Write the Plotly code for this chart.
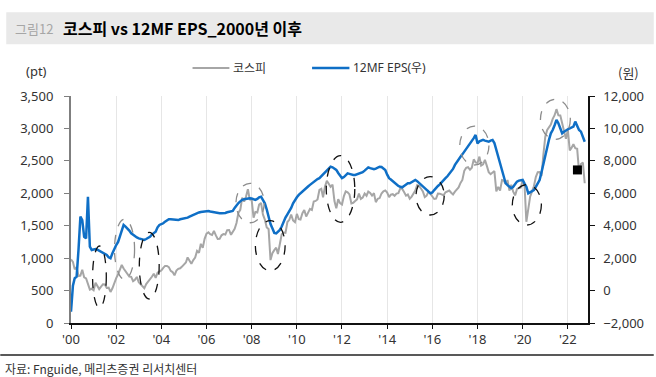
import pandas as pd
import plotly.graph_objects as go

# ---------------- data (monthly, month start) ----------------
months = pd.date_range("2000-01-01", "2022-10-01", freq="MS")

kospi = [
    980, 943, 829, 861, 725, 731, 821, 705, 688, 613, 514, 528,          # 2000
    505, 621, 579, 523, 562, 596, 595, 541, 545, 479, 535, 628,          # 2001
    693, 752, 819, 895, 841, 796, 743, 716, 712, 646, 668, 710,          # 2002
    628, 591, 576, 535, 600, 633, 670, 713, 760, 697, 776, 794,          # 2003
    810, 849, 880, 880, 862, 803, 785, 735, 807, 835, 844, 870,          # 2004
    896, 932, 1011, 965, 912, 970, 1008, 1111, 1083, 1221, 1158, 1297,   # 2005
    1379, 1399, 1371, 1359, 1419, 1351, 1295, 1297, 1352, 1371, 1364, 1432,  # 2006
    1434, 1360, 1417, 1453, 1543, 1700, 1744, 1933, 1873, 1946, 2064, 1906,  # 2007
    1897, 1624, 1711, 1704, 1825, 1852, 1674, 1594, 1474, 1448, 970, 1076,   # 2008
    1124, 1162, 1063, 1206, 1369, 1395, 1390, 1557, 1591, 1673, 1580, 1555,  # 2009
    1682, 1602, 1594, 1692, 1741, 1641, 1698, 1759, 1742, 1873, 1882, 1904,  # 2010
    2051, 2069, 1939, 2106, 2192, 2142, 2100, 2133, 1880, 1770, 1909, 1848,  # 2011
    1826, 1956, 2030, 2014, 1982, 1844, 1854, 1881, 1906, 1996, 1913, 1933,  # 2012
    1997, 1962, 2027, 2005, 1964, 2001, 1863, 1915, 1926, 1997, 2031, 2045,  # 2013
    2011, 1941, 1980, 1986, 1962, 1995, 2002, 2076, 2068, 2020, 1964, 1981,  # 2014
    1916, 1949, 1986, 2041, 2127, 2115, 2074, 2030, 1941, 1963, 2029, 1992,  # 2015
    1961, 1912, 1917, 1996, 1994, 1983, 1970, 2016, 2034, 2043, 2008, 1983,  # 2016
    2026, 2067, 2091, 2160, 2205, 2347, 2392, 2402, 2363, 2394, 2523, 2476,  # 2017
    2467, 2566, 2427, 2446, 2515, 2423, 2326, 2295, 2323, 2343, 2029, 2097,  # 2018
    2041, 2205, 2195, 2141, 2204, 2041, 2130, 2025, 1968, 2063, 2083, 2088,  # 2019
    2198, 2120, 1560, 1755, 1948, 2030, 2108, 2249, 2326, 2328, 2267, 2591,  # 2020
    2873, 2976, 3013, 3061, 3148, 3204, 3297, 3202, 3199, 3068, 2971, 2839,  # 2021
    2977, 2663, 2699, 2757, 2695, 2685, 2332, 2451, 2472, 2155,              # 2022
]

eps_12mf = [
    -1300, 300, 760, 860, 2500, 4560, 4350, 3320, 3220, 5790, 2710, 2500,     # 2000
    2530, 2560, 2520, 2450, 2400, 2330, 2250, 2200, 2050, 1990, 2300, 2600,   # 2001
    2810, 3000, 3320, 3700, 4050, 3950, 3840, 3700, 3530, 3450, 3320, 3280,   # 2002
    3220, 3200, 3150, 3120, 3180, 3250, 3320, 3450, 3550, 3630, 3900, 4050,   # 2003
    4100, 4150, 4250, 4350, 4400, 4400, 4380, 4360, 4350, 4350, 4400, 4420,   # 2004
    4440, 4460, 4500, 4560, 4620, 4660, 4700, 4770, 4820, 4850, 4870, 4880,   # 2005
    4890, 4910, 4880, 4850, 4810, 4790, 4780, 4770, 4770, 4770, 4790, 4830,   # 2006
    4870, 4890, 4910, 5100, 5280, 5400, 5500, 5600, 5630, 5660, 5680, 5690,   # 2007
    5680, 5620, 5590, 5650, 5750, 5790, 5550, 5380, 5000, 4460, 4100, 3840,   # 2008
    3560, 3530, 3650, 3740, 3950, 4250, 4500, 4700, 4870, 5100, 5380, 5600,   # 2009
    5750, 5900, 6000, 6150, 6250, 6310, 6420, 6520, 6620, 6700, 6800, 6880,   # 2010
    6930, 7050, 7200, 7330, 7450, 7540, 7640, 7600, 7500, 7440, 7250, 7050,   # 2011
    6930, 7000, 7100, 7230, 7200, 7150, 7130, 7130, 7180, 7200, 7230, 7300,   # 2012
    7400, 7500, 7600, 7550, 7500, 7480, 7520, 7580, 7640, 7620, 7550, 7440,   # 2013
    7150, 6930, 6850, 6750, 6620, 6550, 6450, 6400, 6370, 6450, 6550, 6620,   # 2014
    6620, 6680, 6750, 6820, 6750, 6650, 6510, 6450, 6350, 6250, 6100, 6000,   # 2015
    6050, 6200, 6350, 6450, 6550, 6700, 6850, 6930, 7050, 7200, 7330, 7500,   # 2016
    7750, 7950, 8100, 8250, 8400, 8570, 8700, 8850, 9000, 9180, 9400, 9600,   # 2017
    9080, 9200, 9250, 9290, 9250, 9200, 9180, 9250, 9290, 9100, 8670, 8250,   # 2018
    7850, 7450, 7130, 6620, 6500, 6400, 6310, 6400, 6550, 6720, 6780, 6820,   # 2019
    6820, 6600, 6410, 6000, 6050, 6150, 6200, 6400, 6650, 6820, 7300, 7850,   # 2020
    8300, 8800, 9290, 9700, 9900, 10200, 10520, 10320, 10000, 9700, 9800, 9900,  # 2021
    9950, 10010, 10050, 10110, 10420, 10200, 9900, 9800, 9500, 9180,         # 2022
]

marker_date = ["2022-06-05"]
marker_value = [7440]

x_tick_years = list(range(2000, 2023, 2))
x_tick_labels = ["'%02d" % (y % 100) for y in x_tick_years]
left_ticks = [0, 500, 1000, 1500, 2000, 2500, 3000, 3500]
right_ticks = [-2000, 0, 2000, 4000, 6000, 8000, 10000, 12000]

# highlight ovals: (start, end, kospi low, kospi high, kind)
ovals = [
    ("2000-12-15", "2001-07-25", 236, 1187, "black"),
    ("2001-12-05", "2002-10-25", 673, 1599, "gray"),
    ("2003-01-10", "2003-11-27", 370, 1398, "black"),
    ("2007-04-22", "2008-07-22", 1546, 2154, "gray"),
    ("2008-03-01", "2009-06-25", 806, 1577, "black"),
    ("2011-04-22", "2012-07-26", 1553, 2580, "black"),
    ("2015-04-12", "2016-07-12", 1665, 2256, "black"),
    ("2017-03-20", "2018-07-05", 2436, 3037, "gray"),
    ("2019-07-18", "2020-10-30", 1511, 2135, "black"),
    ("2020-10-15", "2022-02-10", 2832, 3449, "gray"),
]

# ---------------- layout geometry (pixels) ----------------
W, H = 656, 377
L, R, T, B = 71, 590, 96, 323


def px(x):
    return (x - L) / (R - L)


def py(y):
    return (B - y) / (B - T)


GRAY = "#a6a6a6"
BLUE = "#0f6fc6"
FONT = "Noto Sans, Noto Sans CJK KR, sans-serif"
KFONT = "Noto Sans CJK KR, sans-serif"

fig = go.Figure()
fig.add_trace(go.Scatter(x=months, y=kospi, name="코스피", mode="lines",
                         line=dict(color=GRAY, width=2), yaxis="y",
                         showlegend=False))
fig.add_trace(go.Scatter(x=months, y=eps_12mf, name="12MF EPS(우)", mode="lines",
                         line=dict(color=BLUE, width=2.5), yaxis="y2",
                         showlegend=False))
fig.add_trace(go.Scatter(x=marker_date, y=marker_value, mode="markers",
                         marker=dict(symbol="square", size=9, color="black"),
                         yaxis="y2", showlegend=False))

shapes = []
# title bar
shapes.append(dict(type="rect", xref="paper", yref="paper",
                   x0=px(6), x1=px(656), y0=py(44.3), y1=py(12.3),
                   fillcolor="#e9e9e9", line=dict(width=0), layer="below"))
# separator line above source
shapes.append(dict(type="line", xref="paper", yref="paper",
                   x0=px(0), x1=px(656), y0=py(355), y1=py(355),
                   line=dict(color="#222222", width=1.5)))
# legend lines
shapes.append(dict(type="line", xref="paper", yref="paper",
                   x0=px(193), x1=px(230), y0=py(68), y1=py(68),
                   line=dict(color=GRAY, width=2)))
shapes.append(dict(type="line", xref="paper", yref="paper",
                   x0=px(313), x1=px(350.5), y0=py(68), y1=py(68),
                   line=dict(color=BLUE, width=2.5)))
# ovals
for x0, x1, y0, y1, kind in ovals:
    shapes.append(dict(type="circle", xref="x", yref="y",
                       x0=x0, x1=x1, y0=y0, y1=y1,
                       line=dict(color="#111111" if kind == "black" else "#8c8c8c",
                                 width=1.3, dash="dash")))

annotations = [
    dict(text="그림12", x=px(12.5), y=py(28.5), xanchor="left", yanchor="middle",
         font=dict(family=KFONT, size=13, color="#a6a6a6")),
    dict(text="<b>코스피 vs 12MF EPS_2000년 이후</b>", x=px(61), y=py(28),
         xanchor="left", yanchor="middle",
         font=dict(family=KFONT, size=16, color="#000000")),
    dict(text="(pt)", x=px(36), y=py(71), xanchor="center", yanchor="middle",
         font=dict(family=FONT, size=13, color="#333333")),
    dict(text="(원)", x=px(631), y=py(72), xanchor="center", yanchor="middle",
         font=dict(family=KFONT, size=13, color="#333333")),
    dict(text="코스피", x=px(232), y=py(67.5), xanchor="left", yanchor="middle",
         font=dict(family=KFONT, size=12, color="#333333")),
    dict(text="12MF EPS(우)", x=px(352.5), y=py(67.5), xanchor="left", yanchor="middle",
         font=dict(family=FONT, size=12, color="#333333")),
    dict(text="자료: Fnguide, 메리츠증권 리서치센터", x=px(3), y=py(368),
         xanchor="left", yanchor="middle",
         font=dict(family=KFONT, size=12, color="#333333")),
]
for a in annotations:
    a.update(xref="paper", yref="paper", showarrow=False)

fig.update_layout(
    width=W, height=H,
    margin=dict(l=L, r=W - R, t=T, b=H - B, pad=0),
    paper_bgcolor="white", plot_bgcolor="white",
    font=dict(family=FONT, size=13, color="#333333"),
    shapes=shapes, annotations=annotations,
    showlegend=False, hovermode=False,
    xaxis=dict(type="date", range=["2000-01-01", "2022-11-23"],
               tickvals=["%d-01-01" % y for y in x_tick_years],
               ticktext=x_tick_labels,
               showgrid=True, gridcolor="#e6e6e6", gridwidth=1,
               showline=True, linecolor="#111111", linewidth=1.5,
               ticks="outside", ticklen=4, tickcolor="#111111",
               tickfont=dict(size=13, color="#333333"), zeroline=False),
    yaxis=dict(range=[0, 3500], tickvals=left_ticks, tickformat=",",
               showgrid=False, showline=True, linecolor="#7f7f7f", linewidth=2,
               ticks="outside", ticklen=5, tickcolor="#7f7f7f",
               ticklabelstandoff=8,
               tickfont=dict(size=13, color="#333333"), zeroline=False),
    yaxis2=dict(range=[-2000, 12000], tickvals=right_ticks, tickformat=",",
                overlaying="y", side="right",
                showgrid=False, showline=True, linecolor="#111111", linewidth=1.5,
                ticks="outside", ticklen=5, tickcolor="#111111",
                ticklabelstandoff=6,
                tickfont=dict(size=13, color="#333333"), zeroline=False),
)

fig.write_html("out.html", config={"displayModeBar": False},
               post_script="document.body.style.margin='0';document.body.style.padding='0';")
